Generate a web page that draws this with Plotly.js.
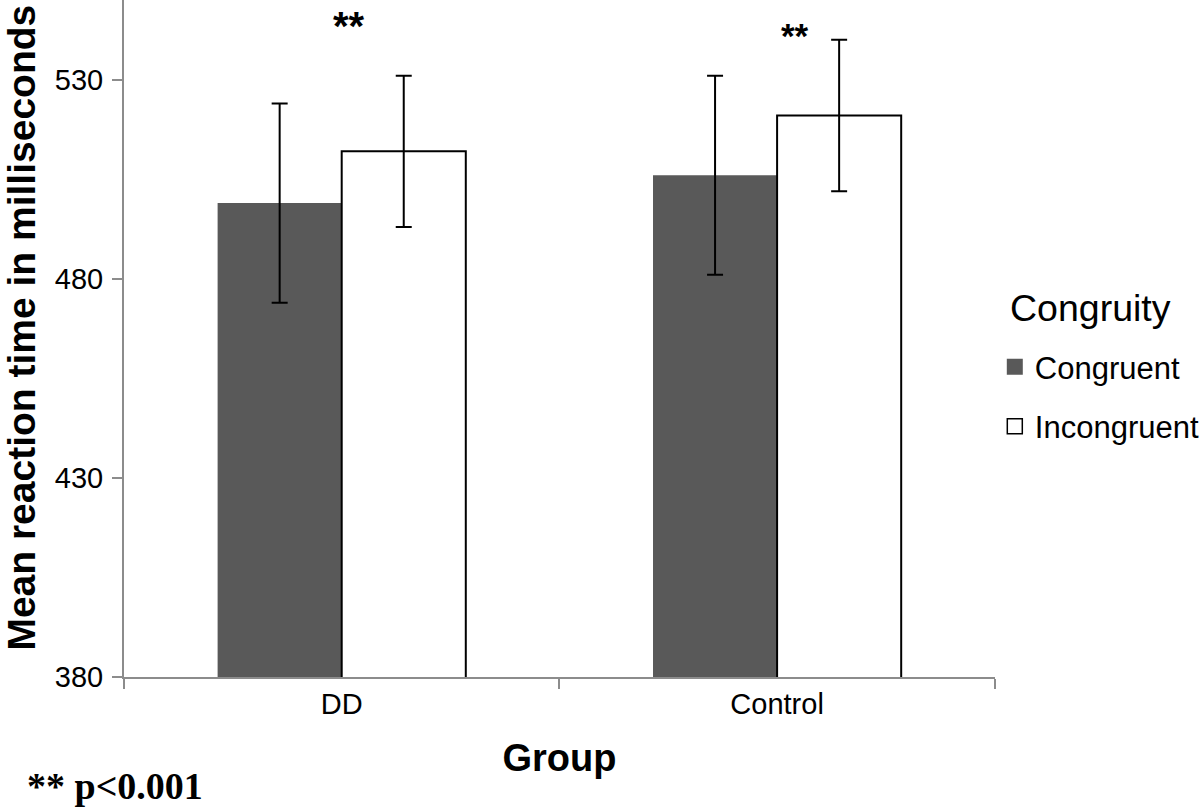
<!DOCTYPE html>
<html>
<head>
<meta charset="utf-8">
<script src="https://cdn.plot.ly/plotly-3.0.1.min.js"></script>
<style>html,body{margin:0;padding:0;background:#fff;}#chart{width:1200px;height:811px;}</style>
</head>
<body>
<div id="chart"></div>
<script>
// Data
const groups = ["DD", "Control"];
const congruentMeans = [499, 506];
const congruentErr = [25, 25];
const incongruentMeans = [512, 521];
const incongruentErr = [19, 19];
const yTicks = [380, 430, 480, 530];
const seriesNames = ["Congruent", "Incongruent"];
const legendTitle = "Congruity";

const SANS = "Liberation Sans, Arial, Helvetica, sans-serif";
const CONG_COLOR = "#595959";

const traces = [
  {
    type: "bar", name: seriesNames[0], x: groups, y: congruentMeans,
    legendgroup: "a", showlegend: false,
    marker: {color: CONG_COLOR, line: {width: 0}},
    error_y: {type: "data", array: congruentErr, visible: true, color: "#000", thickness: 2, width: 8}
  },
  {
    type: "bar", name: seriesNames[1], x: groups, y: incongruentMeans,
    legendgroup: "b", showlegend: false,
    marker: {color: "#ffffff", line: {color: "#000", width: 2}},
    error_y: {type: "data", array: incongruentErr, visible: true, color: "#000", thickness: 2, width: 8}
  },
  // legend entries (larger square swatches, linked to the bars by legendgroup)
  {
    type: "scatter", mode: "markers", name: seriesNames[0], x: [null], y: [null],
    legendgroup: "a", showlegend: true, hoverinfo: "skip",
    marker: {symbol: "square", size: 16, color: CONG_COLOR, line: {width: 0}}
  },
  {
    type: "scatter", mode: "markers", name: seriesNames[1], x: [null], y: [null],
    legendgroup: "b", showlegend: true, hoverinfo: "skip",
    marker: {symbol: "square", size: 15, color: "#ffffff", line: {color: "#000", width: 1.5}}
  }
];

const layout = {
  width: 1200, height: 811,
  margin: {l: 124, r: 195, t: 0, b: 134},
  paper_bgcolor: "#fff", plot_bgcolor: "#fff",
  barmode: "group", bargap: 0.43, bargroupgap: 0,
  font: {family: SANS, color: "#000"},
  xaxis: {
    type: "category", range: [-0.5, 1.5],
    showline: true, linecolor: "#8c8c8c", linewidth: 2,
    ticks: "outside", tickson: "boundaries", ticklen: 10, tickcolor: "#8c8c8c", tickwidth: 2,
    tickfont: {size: 29, family: SANS},
    showgrid: false, zeroline: false,
    title: {text: "<b>Group</b>", font: {size: 38, family: SANS}, standoff: 26}
  },
  yaxis: {
    range: [380, 550], tickvals: yTicks, ticktext: yTicks.map(String),
    showline: true, linecolor: "#8c8c8c", linewidth: 2,
    ticks: "outside", ticklen: 10, tickcolor: "#8c8c8c", tickwidth: 2,
    ticklabelstandoff: 3,
    tickfont: {size: 29, family: SANS},
    showgrid: false, zeroline: false,
    title: {text: "<b>&nbsp;&nbsp;Mean reaction time in milliseconds</b>", font: {size: 39, family: SANS}, standoff: 12}
  },
  showlegend: true,
  legend: {
    xref: "container", yref: "container",
    x: 0.829, y: 0.5805, xanchor: "left", yanchor: "top",
    traceorder: "grouped", tracegroupgap: 16,
    font: {size: 31, family: SANS},
    bgcolor: "rgba(0,0,0,0)", borderwidth: 0
  },
  annotations: [
    {xref: "paper", yref: "paper", x: 1.110, y: 0.545, text: legendTitle, showarrow: false,
     font: {size: 37.5, family: SANS}, xanchor: "center", yanchor: "middle"},
    {xref: "x", yref: "y", x: 0.017, y: 543.5, text: "<b>**</b>", showarrow: false,
     font: {size: 40, family: SANS}, xanchor: "center", yanchor: "middle"},
    {xref: "x", yref: "y", x: 1.041, y: 541.2, text: "<b>**</b>", showarrow: false,
     font: {size: 35, family: SANS}, xanchor: "center", yanchor: "middle"},
    {xref: "paper", yref: "paper", x: -0.114, y: -0.161, text: "<b>** p<0.001</b>", showarrow: false,
     font: {size: 38, family: "Liberation Serif, Times New Roman, serif"}, xanchor: "left", yanchor: "middle"}
  ]
};

Plotly.newPlot("chart", traces, layout, {displayModeBar: false, responsive: false});
</script>
</body>
</html>
